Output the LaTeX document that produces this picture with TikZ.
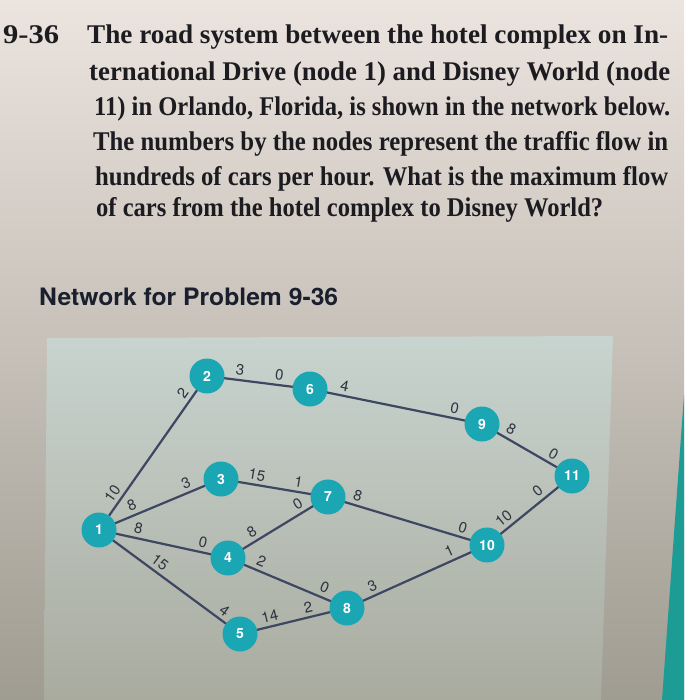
\documentclass[tikz,border=0pt]{standalone}
\usepackage{fontspec}
\setmainfont{Liberation Serif}
\setsansfont{TeX Gyre Heros}
\usepackage{graphicx}
\definecolor{bgtop}{HTML}{ECE4DF}
\definecolor{bgmid}{HTML}{E0D7CF}
\definecolor{bgbot}{HTML}{9F9C91}
\definecolor{paneltop}{HTML}{C8D4CF}
\definecolor{panelbot}{HTML}{A9AB9F}
\definecolor{stripcol}{HTML}{1C9C94}
\definecolor{nodecol}{HTML}{1BA6B4}
\definecolor{edgecol}{HTML}{3D4761}
\definecolor{labcol}{HTML}{2E3440}
\definecolor{inkcol}{HTML}{1C1B20}
\definecolor{headcol}{HTML}{1A1F2E}
\pgfdeclarelayer{bg}
\pgfdeclarelayer{edgelayer}
\pgfsetlayers{bg,edgelayer,main}
\tikzset{
  txt/.style={anchor=base west, inner sep=0pt, text=inkcol,
    font=\fontsize{27pt}{27pt}\selectfont\bfseries},
  netnode/.style={circle, fill=nodecol, minimum size=35pt, inner sep=0pt,
    text=white, font=\sffamily\bfseries\fontsize{14pt}{14pt}\selectfont},
  edge/.style={draw=edgecol, line width=2.2pt},
  lab/.style={sloped, above=3.5pt, inner sep=0pt, text=labcol,
    font=\sffamily\fontsize{15pt}{15pt}\selectfont}
}
\begin{document}
\begin{tikzpicture}[x=1pt,y=-1pt]
\useasboundingbox (0,0) rectangle (684,700);
\begin{pgfonlayer}{bg}
  \shade[top color=bgtop, middle color=bgmid, bottom color=bgbot] (0,0) rectangle (684,700);
  \shade[top color=paneltop, bottom color=panelbot] (47,338) -- (613,336) -- (601,700) -- (44,700) -- cycle;
  \fill[stripcol] (684,395) -- (684,700) -- (662,700) -- cycle;
\end{pgfonlayer}

% text
\node[txt] (num) at (3,44) {\resizebox{56pt}{\height}{9-36}};
\node[txt] (l1) at (87,44) {\resizebox{581pt}{\height}{The road system between the hotel complex on In-}};
\node[txt] (l2) at (89,81) {\resizebox{581pt}{\height}{ternational Drive (node 1) and Disney World (node}};
\node[txt] (l3) at (94,116) {\resizebox{576pt}{\height}{11) in Orlando, Florida, is shown in the network below.}};
\node[txt] (l4) at (93,151) {\resizebox{575pt}{\height}{The numbers by the nodes represent the traffic flow in}};
\node[txt] (l5) at (95,186) {\resizebox{573pt}{\height}{hundreds of cars per hour. What is the maximum flow}};
\node[txt] (l6) at (96,217) {\resizebox{507pt}{\height}{of cars from the hotel complex to Disney World?}};
\node[anchor=base west, inner sep=0pt, text=headcol] (head) at (39,305)
  {\resizebox{299pt}{\height}{\sffamily\bfseries\fontsize{24pt}{24pt}\selectfont Network for Problem 9-36}};

% nodes
\node[netnode] (n1) at (99,530) {1};
\node[netnode] (n2) at (207,376) {2};
\node[netnode] (n3) at (221,479) {3};
\node[netnode] (n4) at (228,558) {4};
\node[netnode] (n5) at (240,634) {5};
\node[netnode] (n6) at (310,389) {6};
\node[netnode] (n7) at (328,497) {7};
\node[netnode] (n8) at (347,608) {8};
\node[netnode] (n9) at (482,424) {9};
\node[netnode] (n10) at (487,545) {10};
\node[netnode] (n11) at (572,476) {11};

% edges
\begin{pgfonlayer}{edgelayer}
\draw[edge] (n1.center) -- node[lab,pos=.20]{10} node[lab,pos=.85]{2} (n2.center);
\draw[edge] (n1.center) -- node[lab,pos=.30]{8} node[lab,pos=.745]{3} (n3.center);
\draw[edge] (n1.center) -- node[lab,pos=.29]{8} node[lab,pos=.79]{0} (n4.center);
\draw[edge] (n1.center) -- node[lab,pos=.39]{15} node[lab,pos=.85]{4} (n5.center);
\draw[edge] (n2.center) -- node[lab,pos=.31]{3} node[lab,pos=.69]{0} (n6.center);
\draw[edge] (n6.center) -- node[lab,pos=.19]{4} node[lab,pos=.83]{0} (n9.center);
\draw[edge] (n3.center) -- node[lab,pos=.32]{15} node[lab,pos=.71]{1} (n7.center);
\draw[edge] (n4.center) -- node[lab,pos=.29]{8} node[lab,pos=.75]{0} (n7.center);
\draw[edge] (n4.center) -- node[lab,pos=.25]{2} node[lab,pos=.78]{0} (n8.center);
\draw[edge] (n5.center) -- node[lab,pos=.30]{14} node[lab,pos=.66]{2} (n8.center);
\draw[edge] (n7.center) -- node[lab,pos=.17]{8} node[lab,pos=.83]{0} (n10.center);
\draw[edge] (n8.center) -- node[lab,pos=.21]{3} node[lab,pos=.76]{1} (n10.center);
\draw[edge] (n9.center) -- node[lab,pos=.27]{8} node[lab,pos=.74]{0} (n11.center);
\draw[edge] (n10.center) -- node[lab,pos=.27]{10} node[lab,pos=.67]{0} (n11.center);
\end{pgfonlayer}
\end{tikzpicture}
\end{document}
